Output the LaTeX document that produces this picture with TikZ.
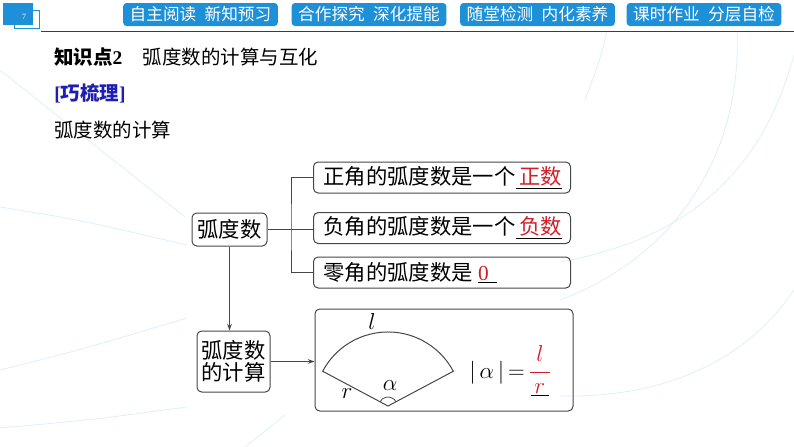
\documentclass[tikz,border=0pt]{standalone}
\usepackage{fontspec}
\setmainfont{Liberation Serif}
\newfontfamily\cjk{Noto Sans CJK SC}
\usetikzlibrary{arrows.meta}
\definecolor{tabblue}{RGB}{30,144,216}
\definecolor{rulenavy}{RGB}{50,50,140}
\definecolor{ansred}{RGB}{210,30,40}
\definecolor{linegray}{RGB}{70,70,70}
\definecolor{decoblue}{RGB}{222,240,246}
\definecolor{hintblue}{RGB}{30,30,180}
\newcommand\ansline[1]{\underline{\hspace{3pt}\textcolor{ansred}{#1}}}
\tikzset{
  tab/.style={fill=tabblue, rounded corners=2.5pt, minimum height=17.25pt, minimum width=116pt, inner sep=0pt, text=white, font=\cjk\fontsize{12.5}{12.5}\selectfont},
  box/.style={draw=linegray, line width=0.75pt, rounded corners=3.5pt, inner sep=0pt, font=\cjk\fontsize{16}{18}\selectfont},
  rowbox/.style={box, anchor=west, align=left, text width=177.75pt, inner xsep=7.5pt, minimum height=23.25pt},
  conn/.style={draw=linegray, line width=0.75pt},
  tip/.style={-{Stealth[length=5pt,width=3.5pt]}},
  deco/.style={draw=decoblue, line width=0.6pt}
}
\begin{document}
\begin{tikzpicture}[x=0.75pt,y=0.75pt,yscale=-1,xscale=1]
\useasboundingbox (0,0) rectangle (794,447);
% faint background curves
\draw[deco] (0,70) -- (185,217);
\draw[deco] (0,207) .. controls (80,220) .. (187,245);
\draw[deco] (0,370) .. controls (80,350) .. (187,318);
\draw[deco] (0,428) .. controls (90,420) .. (187,407);
\draw[deco] (245,447) -- (285,415);
\draw[deco] (737,31) .. controls (742,150) and (680,255) .. (560,300);
\draw[deco] (794,55) .. controls (760,180) and (680,240) .. (560,262);
\draw[deco] (607,31) .. controls (600,60) .. (585,100);
\draw[deco] (794,290) .. controls (740,370) and (650,398) .. (560,396);
% header
\fill[tabblue] (3,3) rectangle (33,25);
\draw[tabblue, line width=0.6pt] (14,10) rectangle (39,28);
\node[text=white, font=\fontsize{6}{6}\selectfont] (pnum) at (24,17) {7};
\draw[rulenavy, line width=0.9pt] (41,31.5) -- (794,31.5);
\node[tab] (tab1) at (200.5,14.5) {自主阅读\hspace{0.5em}新知预习};
\node[tab] (tab2) at (369,14.5) {合作探究\hspace{0.5em}深化提能};
\node[tab] (tab3) at (537.5,14.5) {随堂检测\hspace{0.5em}内化素养};
\node[tab] (tab4) at (704,14.5) {课时作业\hspace{0.5em}分层自检};
% headings
\node[anchor=west, inner sep=0pt, font=\fontsize{14.6}{16}\selectfont] (title) at (54,57) {{\cjk\bfseries 知识点}\textbf{2}\hspace{1.05em}{\cjk 弧度数的计算与互化}};
\node[anchor=west, inner sep=0pt, text=hintblue, font=\fontsize{14.6}{16}\selectfont] (hint) at (54,93) {\textbf{[}{\cjk\bfseries 巧梳理}\textbf{]}};
\node[anchor=west, inner sep=0pt, font=\cjk\fontsize{14.6}{16}\selectfont] (sub) at (54,130) {弧度数的计算};
% chart
\node[box, minimum width=56.25pt, minimum height=24.75pt] (deg) at (229.5,229.5) {弧度数};
\node[box, minimum width=54.75pt, minimum height=45.75pt, align=center] (calc) at (233.5,361.5) {弧度数\\[-2pt]的计算};
\node[rowbox] (pos) at (313,177.5) {正角的弧度数是一个\ansline{正数}};
\node[rowbox] (neg) at (313,228) {负角的弧度数是一个\ansline{负数}};
\node[rowbox] (zero) at (313,272.5) {零角的弧度数是\hspace{4pt}\underline{\textcolor{ansred}{\textrm{0}}\hspace{6pt}}};
\node[box, minimum width=193.5pt, minimum height=76.5pt] (fig) at (444,360) {};
\coordinate (bus) at (291,229.5);
\draw[conn] (deg.east) -- (deg.east -| neg.west);
\draw[conn] (pos.west) -| (bus) |- (zero.west);
\draw[conn, tip] (deg.south) -- (deg.south |- calc.north);
\draw[conn, tip] (calc.east) -- (calc.east -| fig.west);
% sector
\coordinate (apex) at (388,406);
\draw[linegray, line width=0.75pt] (apex) -- ++(-152:74) arc[start angle=-152, end angle=-28, radius=74] -- cycle;
\draw[linegray, line width=0.6pt] (apex) ++(-152:9) arc[start angle=-152, end angle=-28, radius=9];
\node[font=\fontsize{16}{18}\selectfont] (lbl) at (372,321) {$l$};
\node[font=\fontsize{16}{18}\selectfont] (rlbl) at (347,394) {$r$};
\node[font=\fontsize{16}{18}\selectfont] (albl) at (390,386) {$\alpha$};
\node[font=\fontsize{16}{18}\selectfont, inner sep=0pt, anchor=east] (absval) at (525,373) {$|\,\alpha\,|\mkern-2mu=$};
\node[font=\fontsize{17}{19}\selectfont, inner sep=0pt, anchor=west] (ratio) at (528,371) {$\color{ansred}\displaystyle\frac{\;l\;}{\textcolor{black}{\underline{\textcolor{ansred}{\,r\,}}}}$};
\end{tikzpicture}
\end{document}
